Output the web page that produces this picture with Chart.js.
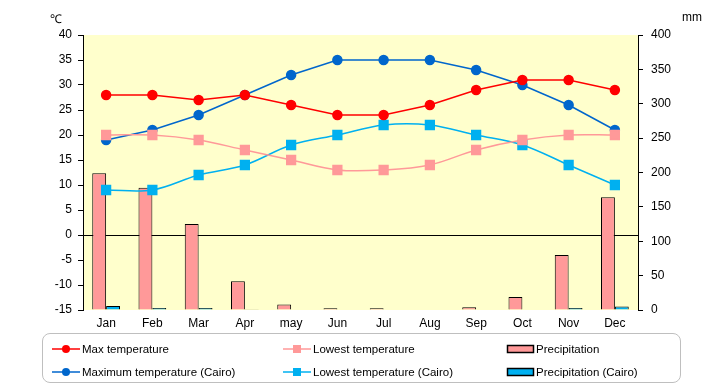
<!DOCTYPE html>
<html>
<head>
<meta charset="utf-8">
<script src="https://cdn.jsdelivr.net/npm/chart.js@4"></script>
<style>
  body { margin: 0; background: #fff; font-family: 'Liberation Sans', Arial, sans-serif; }
  #wrap { position: relative; width: 720px; height: 385px; }
  .unit { position: absolute; font-size: 12px; color: #000; }
  #legend { position: absolute; left: 42px; top: 333px; width: 639px; height: 50px;
            border: 1px solid #bfbfbf; border-radius: 8px; box-sizing: border-box; }
  .item { position: absolute; font-size: 11.5px; color: #000; height: 14px; line-height: 14px; }
  .sym { position: absolute; left: 0; top: 0; width: 30px; height: 14px; }
  .item span.txt { position: absolute; left: 31px; top: 0; white-space: nowrap; }
</style>
</head>
<body>
<div id="wrap">
  <canvas id="weatherChart" width="720" height="385"></canvas>
  <div class="unit" style="left:50px;top:10px">℃</div>
  <div class="unit" style="left:682px;top:10px">mm</div>
  <div id="legend"></div>
</div>
<script>
const months = ['Jan', 'Feb', 'Mar', 'Apr', 'may', 'Jun', 'Jul', 'Aug', 'Sep', 'Oct', 'Nov', 'Dec'];
const maxTemp = [28, 28, 27, 28, 26, 24, 24, 26, 29, 31, 31, 29];
const lowTemp = [20, 20, 19, 17, 15, 13, 13, 14, 17, 19, 20, 20];
const maxTempCairo = [19, 21, 24, 28, 32, 35, 35, 35, 33, 30, 26, 21];
const lowTempCairo = [9, 9, 12, 14, 18, 20, 22, 22, 20, 18, 14, 10];
const precip = [199, 178, 125, 42, 8, 2.5, 2.5, 0, 4, 19, 80, 164];
const precipCairo = [6, 3, 3, 1, 0, 0, 0, 0, 0, 0, 3, 5];

const ctx = document.getElementById('weatherChart');

// plot area background
const bgPlugin = {
  id: 'plotBg',
  beforeDraw(chart) {
    const a = chart.chartArea;
    const c = chart.ctx;
    c.save();
    c.fillStyle = '#FFFFCC';
    c.fillRect(a.left, a.top, a.right - a.left, a.bottom - a.top);
    c.restore();
  }
};

const tickFont = { family: 'Liberation Sans', size: 12 };

new Chart(ctx, {
  type: 'bar',
  data: {
    labels: months,
    datasets: [
      { type: 'line', label: 'Max temperature', data: maxTemp, yAxisID: 'y', order: 0,
        borderColor: '#FF0000', backgroundColor: '#FF0000', borderWidth: 1.5,
        pointStyle: 'circle', pointRadius: 4.5, tension: 0 },
      { type: 'line', label: 'Lowest temperature', data: lowTemp, yAxisID: 'y', order: 0,
        borderColor: '#FF9999', backgroundColor: '#FF9999', borderWidth: 1.5,
        pointStyle: 'rect', pointRadius: 6.2, tension: 0.35 },
      { type: 'line', label: 'Maximum temperature (Cairo)', data: maxTempCairo, yAxisID: 'y', order: 0,
        borderColor: '#0066CC', backgroundColor: '#0066CC', borderWidth: 1.5,
        pointStyle: 'circle', pointRadius: 4.5, tension: 0 },
      { type: 'line', label: 'Lowest temperature (Cairo)', data: lowTempCairo, yAxisID: 'y', order: 0,
        borderColor: '#00B0F0', backgroundColor: '#00B0F0', borderWidth: 1.5,
        pointStyle: 'rect', pointRadius: 6.2, tension: 0.35 },
      { label: 'Precipitation', data: precip, yAxisID: 'y2', order: 1,
        backgroundColor: '#FF9999', borderColor: '#000', borderWidth: 1,
        categoryPercentage: 0.6, barPercentage: 1 },
      { label: 'Precipitation (Cairo)', data: precipCairo, yAxisID: 'y2', order: 1,
        backgroundColor: '#00B0F0', borderColor: '#000', borderWidth: 1,
        categoryPercentage: 0.6, barPercentage: 1 }
    ]
  },
  options: {
    responsive: false,
    animation: false,
    layout: { padding: { top: 35, left: 0, right: 0, bottom: 0 } },
    plugins: { legend: { display: false }, tooltip: { enabled: false } },
    scales: {
      x: {
        afterFit: s => { s.height = 75; },
        grid: { display: false, drawTicks: false },
        border: { display: false },
        ticks: { color: '#000', font: tickFont, padding: 6, maxRotation: 0 }
      },
      y: {
        position: 'left',
        min: -15, max: 40,
        afterFit: s => { s.width = 83; },
        border: { color: '#000', width: 1 },
        grid: {
          color: c => (c.tick && c.tick.value === 0 ? '#000' : 'transparent'),
          tickColor: '#000', tickLength: 5, lineWidth: 1
        },
        ticks: { stepSize: 5, color: '#000', font: tickFont, padding: 6 }
      },
      y2: {
        position: 'right',
        min: 0, max: 400,
        afterFit: s => { s.width = 82; },
        border: { color: '#000', width: 1 },
        grid: { drawOnChartArea: false, tickColor: '#000', tickLength: 5 },
        ticks: { stepSize: 50, color: '#000', font: tickFont, padding: 8 }
      }
    }
  },
  plugins: [bgPlugin]
});

// legend built from the dataset styles
const legendItems = [
  { label: 'Max temperature', kind: 'line', color: '#FF0000', marker: 'circle', x: 8, y: 8 },
  { label: 'Lowest temperature', kind: 'line', color: '#FF9999', marker: 'rect', x: 239, y: 8 },
  { label: 'Precipitation', kind: 'bar', color: '#FF9999', x: 462, y: 8 },
  { label: 'Maximum temperature (Cairo)', kind: 'line', color: '#0066CC', marker: 'circle', x: 8, y: 31 },
  { label: 'Lowest temperature (Cairo)', kind: 'line', color: '#00B0F0', marker: 'rect', x: 239, y: 31 },
  { label: 'Precipitation (Cairo)', kind: 'bar', color: '#00B0F0', x: 462, y: 31 }
];
const legend = document.getElementById('legend');
legendItems.forEach(it => {
  const d = document.createElement('div');
  d.className = 'item';
  d.style.left = it.x + 'px';
  d.style.top = it.y + 'px';
  let sym;
  if (it.kind === 'line') {
    const m = it.marker === 'circle'
      ? `<circle cx="15" cy="7" r="4" fill="${it.color}"/>`
      : `<rect x="11" y="3" width="8" height="8" fill="${it.color}"/>`;
    sym = `<svg class="sym" width="30" height="14"><line x1="1" y1="7" x2="29" y2="7" stroke="${it.color}" stroke-width="1.5"/>${m}</svg>`;
  } else {
    sym = `<svg class="sym" width="30" height="14"><rect x="2.5" y="3.5" width="26" height="7" fill="${it.color}" stroke="#000" stroke-width="1.5"/></svg>`;
  }
  d.innerHTML = sym + `<span class="txt">${it.label}</span>`;
  legend.appendChild(d);
});
</script>
</body>
</html>
